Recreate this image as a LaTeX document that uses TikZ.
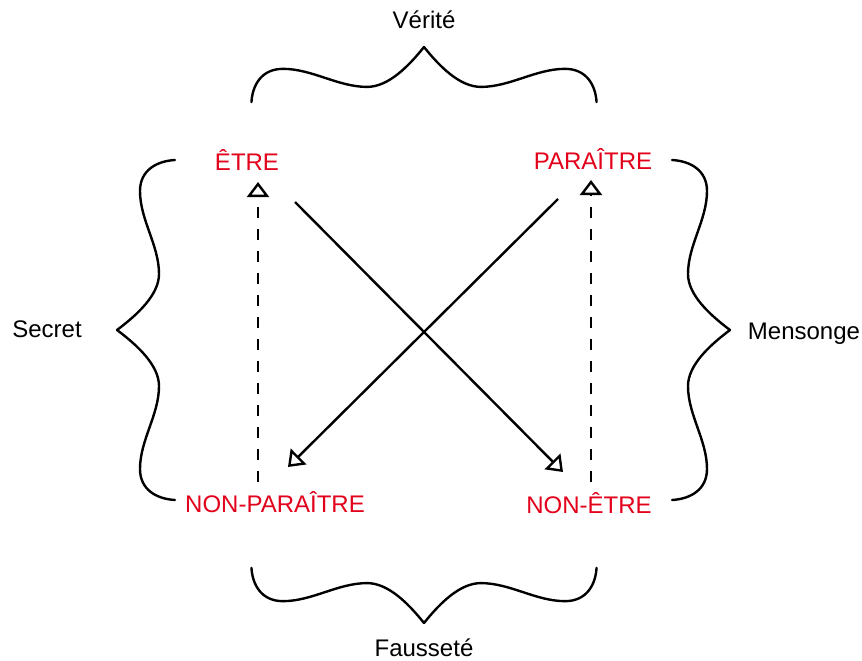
\documentclass[tikz,border=0pt]{standalone}
\usepackage{fontspec}
\setmainfont{Liberation Sans}
\usepackage{xcolor}
\usetikzlibrary{arrows.meta,calc}

\definecolor{termred}{RGB}{226,0,26}

% one half of a curly brace: tip at the origin, opening towards +x
\newcommand{\halfbrace}{(0,0) .. controls (20,15) and (42,35) .. (42,56)
  .. controls (42,85) and (23,110) .. (23,139)
  .. controls (23,160) and (40,169) .. (58,170)}

\tikzset{
  brace/.style={line width=2.4pt,line cap=round,line join=round},
  term/.style={font=\fontsize{24}{28}\selectfont,text=termred,inner sep=0pt,
    text height=17pt,text depth=0pt},
  side/.style={font=\fontsize{24}{28}\selectfont,inner sep=0pt,
    text height=17pt,text depth=0pt},
  implies/.style={line width=2.4pt,-{Triangle[open,length=15pt,width=22pt]}},
  dashimplies/.style={implies,dash pattern=on 11pt off 11pt}
}

\begin{document}
\begin{tikzpicture}[x=1pt,y=1pt,line join=round]
  \useasboundingbox (0,0) rectangle (862,-661);
  % the four terms
  \node[term] (etre) at (247,-162) {ÊTRE};
  \node[term] (paraitre) at (593,-161) {PARAÎTRE};
  \node[term] (nonparaitre) at (275,-504) {NON-PARAÎTRE};
  \node[term] (nonetre) at (589,-505) {NON-ÊTRE};
  % the four sides
  \node[side] (verite) at (424,-20) {Vérité};
  \node[side] (faussete) at (424,-648) {Fausseté};
  \node[side] (secret) at (47,-329) {Secret};
  \node[side] (mensonge) at (804,-331) {Mensonge};
  % braces
  \foreach \s in {1,-1} {
    \draw[brace,shift={(117,-330)},yscale=\s] \halfbrace;
    \draw[brace,shift={(730,-330)},xscale=-1,yscale=\s] \halfbrace;
    \draw[brace,shift={(424,-47)},rotate=-90,xscale=0.95,yscale=1.015*\s] \halfbrace;
    \draw[brace,shift={(424,-623)},rotate=90,xscale=0.95,yscale=1.015*\s] \halfbrace;
  }
  % contradictions
  \draw[implies] ($(etre.center)+(48,-40)$) -- ($(nonetre.center)+(-26,33)$);
  \draw[implies] ($(paraitre.center)+(-35,-38)$) -- ($(nonparaitre.center)+(13,37)$);
  % implications
  \draw[dashimplies] ($(nonparaitre.center)+(-17,22)$) -- ($(etre.center)+(11,-20)$);
  \draw[dashimplies] ($(nonetre.center)+(2,23)$) -- ($(paraitre.center)+(-2,-19)$);
\end{tikzpicture}
\end{document}
